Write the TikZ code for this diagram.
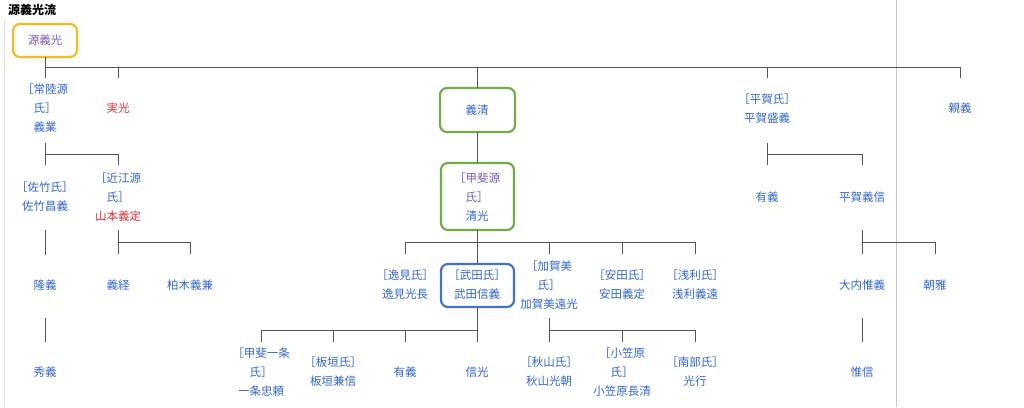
\documentclass[tikz,border=0pt]{standalone}
\usepackage{fontspec}
\setmainfont{Noto Sans CJK JP}
\begin{document}
\begin{tikzpicture}[x=1pt,y=-1pt,
  t/.style={font=\fontsize{11.5}{19}\selectfont,text=blu,align=center,inner sep=0pt},
  ln/.style={draw=lin,line width=1pt},
  bx/.style={rounded corners=7pt,line width=2.2pt}]
\definecolor{blu}{HTML}{3366CC}
\definecolor{pur}{HTML}{795CB2}
\definecolor{red1}{HTML}{DD3333}
\definecolor{lin}{HTML}{555555}
\definecolor{yel}{HTML}{F5BC1F}
\definecolor{grn}{HTML}{70AD47}
\definecolor{bbx}{HTML}{4472C4}
\useasboundingbox (0,0) rectangle (1024,407);
\fill[white] (0,0) rectangle (1024,407);
\draw[gray!45,line width=0.8pt] (896,0) -- (896,407);
\draw[gray!25,line width=0.8pt] (4,20) -- (4,407);
\node[anchor=west,font=\fontsize{12}{14}\selectfont\bfseries,inner sep=0pt] (title) at (8,10) {源義光流};
% boxes
\draw[bx,yel] (13,24) rectangle (77,57);
\draw[bx,grn] (440,88) rectangle (515,132);
\draw[bx,grn] (441,163) rectangle (514,230);
\draw[bx,bbx] (441,264) rectangle (514,307);
% nodes
\node[t,text=pur] (yoshimitsu) at (45,40) {源義光};
\node[t] (yoshinari) at (45,108) {［常陸源\\氏］\\義業};
\node[t,text=red1] (sanemitsu) at (118,108) {実光};
\node[t] (yoshikiyo) at (477,110) {義清};
\node[t] (morishige) at (767,108.5) {［平賀氏］\\平賀盛義};
\node[t] (chikayoshi) at (960,108) {親義};
\node[t] (masayoshi) at (45,196.5) {［佐竹氏］\\佐竹昌義};
\node[t] (yamamoto) at (118,197) {［近江源\\氏］\\\textcolor{red1}{山本義定}};
\node[t] (kiyomitsu) at (477,197) {\textcolor{pur}{［甲斐源}\\\textcolor{pur}{氏］}\\清光};
\node[t] (ariyoshi1) at (767,197) {有義};
\node[t] (hiraga) at (862,197) {平賀義信};
\node[t] (takayoshi) at (45,285) {隆義};
\node[t] (yoshitsune) at (118,285) {義経};
\node[t] (kashiwagi) at (190,285) {柏木義兼};
\node[t] (henmi) at (405,284.5) {［逸見氏］\\逸見光長};
\node[t] (takeda) at (477,284.5) {［武田氏］\\武田信義};
\node[t] (kagami) at (549,285) {［加賀美\\氏］\\加賀美遠光};
\node[t] (yasuda) at (622,284.5) {［安田氏］\\安田義定};
\node[t] (asari) at (695,284.5) {［浅利氏］\\浅利義遠};
\node[t] (ouchi) at (862,285) {大内惟義};
\node[t] (tomomasa) at (935,285) {朝雅};
\node[t] (hideyoshi) at (45,372) {秀義};
\node[t] (ichijo) at (261,372) {［甲斐一条\\氏］\\一条忠頼};
\node[t] (itagaki) at (333,371.5) {［板垣氏］\\板垣兼信};
\node[t] (ariyoshi2) at (405,372) {有義};
\node[t] (nobumitsu) at (477,372) {信光};
\node[t] (akiyama) at (549,371.5) {［秋山氏］\\秋山光朝};
\node[t] (ogasawara) at (622,372) {［小笠原\\氏］\\小笠原長清};
\node[t] (nanbu) at (695,371.5) {［南部氏］\\光行};
\node[t] (korenobu) at (862,372) {惟信};
% connectors
\draw[ln] (45,57) -- (45,78);
\draw[ln] (45,67) -- (960,67);
\foreach \x in {118,477,767,960} \draw[ln] (\x,67) -- (\x,78);
\draw[ln] (477,78) -- (477,88);
\draw[ln] (45,143) -- (45,165) (45,154) -- (118,154) -- (118,165);
\draw[ln] (767,143) -- (767,165) (767,154) -- (862,154) -- (862,165);
\draw[ln] (477,132) -- (477,163);
\draw[ln] (45,230) -- (45,255);
\draw[ln] (118,230) -- (118,254) (118,242) -- (190,242) -- (190,254);
\draw[ln] (477,230) -- (477,254) (405,242) -- (695,242);
\foreach \x in {405,549,622,695} \draw[ln] (\x,242) -- (\x,254);
\draw[ln] (477,254) -- (477,264);
\draw[ln] (862,230) -- (862,254) (862,242) -- (935,242) -- (935,254);
\draw[ln] (45,318) -- (45,342);
\draw[ln] (477,307) -- (477,342) (261,330) -- (477,330);
\foreach \x in {261,333,405} \draw[ln] (\x,330) -- (\x,342);
\draw[ln] (549,318) -- (549,342) (549,330) -- (695,330);
\foreach \x in {622,695} \draw[ln] (\x,330) -- (\x,342);
\draw[ln] (862,318) -- (862,342);
\end{tikzpicture}
\end{document}
